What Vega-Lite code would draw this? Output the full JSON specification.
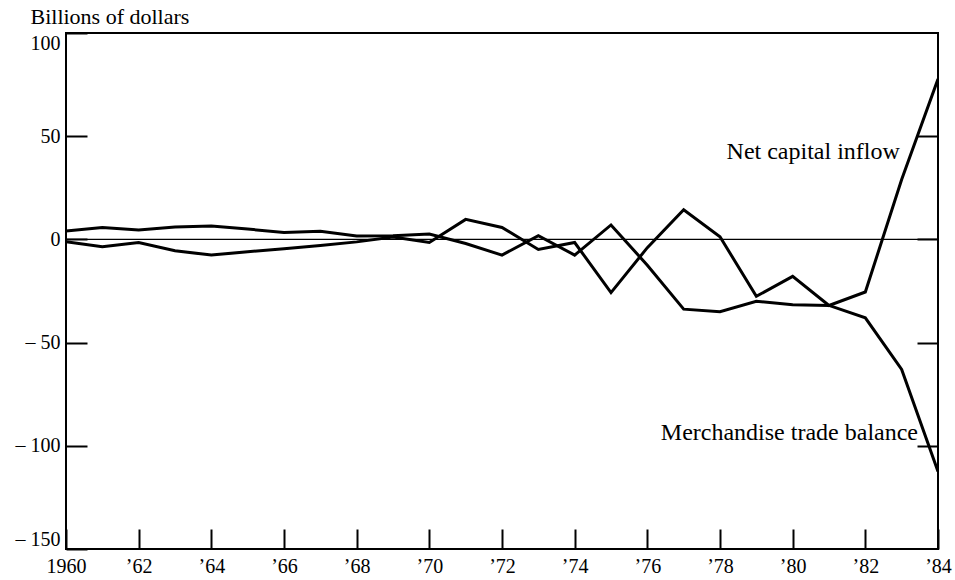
{
  "$schema": "https://vega.github.io/schema/vega-lite/v6.json",
  "width": 872,
  "height": 516,
  "autosize": "none",
  "padding": {"left": 66, "top": 33, "right": 17, "bottom": 31},
  "background": "white",
  "config": {
    "font": "Liberation Serif",
    "view": {"stroke": "black", "strokeWidth": 2},
    "axis": {
      "grid": false,
      "domain": false,
      "tickColor": "black",
      "tickWidth": 2,
      "labelColor": "black",
      "labelFont": "Liberation Serif",
      "labelFontSize": 20,
      "titleFont": "Liberation Serif",
      "titleColor": "black"
    }
  },
  "datasets": {
    "series": [
      {"year": 1960, "series": "Merchandise trade balance", "value": 4.1},
      {"year": 1961, "series": "Merchandise trade balance", "value": 5.8},
      {"year": 1962, "series": "Merchandise trade balance", "value": 4.5},
      {"year": 1963, "series": "Merchandise trade balance", "value": 6.0},
      {"year": 1964, "series": "Merchandise trade balance", "value": 6.5},
      {"year": 1965, "series": "Merchandise trade balance", "value": 5.0},
      {"year": 1966, "series": "Merchandise trade balance", "value": 3.4},
      {"year": 1967, "series": "Merchandise trade balance", "value": 4.0},
      {"year": 1968, "series": "Merchandise trade balance", "value": 1.6},
      {"year": 1969, "series": "Merchandise trade balance", "value": 1.8},
      {"year": 1970, "series": "Merchandise trade balance", "value": 2.6},
      {"year": 1971, "series": "Merchandise trade balance", "value": -2.0},
      {"year": 1972, "series": "Merchandise trade balance", "value": -7.6},
      {"year": 1973, "series": "Merchandise trade balance", "value": 1.8},
      {"year": 1974, "series": "Merchandise trade balance", "value": -7.6},
      {"year": 1975, "series": "Merchandise trade balance", "value": 7.0},
      {"year": 1976, "series": "Merchandise trade balance", "value": -12.5},
      {"year": 1977, "series": "Merchandise trade balance", "value": -33.8},
      {"year": 1978, "series": "Merchandise trade balance", "value": -35.0},
      {"year": 1979, "series": "Merchandise trade balance", "value": -30.0},
      {"year": 1980, "series": "Merchandise trade balance", "value": -31.7},
      {"year": 1981, "series": "Merchandise trade balance", "value": -32.0},
      {"year": 1982, "series": "Merchandise trade balance", "value": -38.0},
      {"year": 1983, "series": "Merchandise trade balance", "value": -63.0},
      {"year": 1984, "series": "Merchandise trade balance", "value": -112.5},
      {"year": 1960, "series": "Net capital inflow", "value": -1.1},
      {"year": 1961, "series": "Net capital inflow", "value": -3.5},
      {"year": 1962, "series": "Net capital inflow", "value": -1.5},
      {"year": 1963, "series": "Net capital inflow", "value": -5.5},
      {"year": 1964, "series": "Net capital inflow", "value": -7.6},
      {"year": 1965, "series": "Net capital inflow", "value": -6.0},
      {"year": 1966, "series": "Net capital inflow", "value": -4.5},
      {"year": 1967, "series": "Net capital inflow", "value": -3.0},
      {"year": 1968, "series": "Net capital inflow", "value": -1.2},
      {"year": 1969, "series": "Net capital inflow", "value": 1.2},
      {"year": 1970, "series": "Net capital inflow", "value": -1.5},
      {"year": 1971, "series": "Net capital inflow", "value": 9.7},
      {"year": 1972, "series": "Net capital inflow", "value": 5.8},
      {"year": 1973, "series": "Net capital inflow", "value": -4.9},
      {"year": 1974, "series": "Net capital inflow", "value": -1.5},
      {"year": 1975, "series": "Net capital inflow", "value": -25.8},
      {"year": 1976, "series": "Net capital inflow", "value": -4.0},
      {"year": 1977, "series": "Net capital inflow", "value": 14.4},
      {"year": 1978, "series": "Net capital inflow", "value": 1.3},
      {"year": 1979, "series": "Net capital inflow", "value": -27.6},
      {"year": 1980, "series": "Net capital inflow", "value": -17.9},
      {"year": 1981, "series": "Net capital inflow", "value": -32.0},
      {"year": 1982, "series": "Net capital inflow", "value": -25.5},
      {"year": 1983, "series": "Net capital inflow", "value": 29.0},
      {"year": 1984, "series": "Net capital inflow", "value": 77.7}
    ],
    "labels": [
      {"year": 1982.95, "value": 39, "label": "Net capital inflow"},
      {"year": 1983.45, "value": -97, "label": "Merchandise trade balance"}
    ]
  },
  "layer": [
    {
      "data": {"values": [{"zero": 0}]},
      "mark": {"type": "rule", "color": "black", "strokeWidth": 1.3},
      "encoding": {
        "y": {"field": "zero", "type": "quantitative", "scale": {"domain": [-150, 100]}, "axis": null}
      }
    },
    {
      "data": {"name": "series"},
      "mark": {"type": "line", "color": "black", "strokeWidth": 3, "strokeJoin": "miter", "clip": true},
      "encoding": {
        "x": {
          "field": "year",
          "type": "quantitative",
          "scale": {"domain": [1960, 1984], "nice": false, "zero": false},
          "axis": {
            "title": null,
            "values": [1960, 1962, 1964, 1966, 1968, 1970, 1972, 1974, 1976, 1978, 1980, 1982, 1984],
            "tickSize": -20,
            "labelPadding": 27,
            "labelFlush": false,
            "labelOverlap": false,
            "labelExpr": "datum.value == 1960 ? '1960' : '’' + substring(toString(datum.value), 2, 4)"
          }
        },
        "y": {
          "field": "value",
          "type": "quantitative",
          "scale": {"domain": [-150, 100], "nice": false},
          "axis": {
            "orient": "left",
            "values": [100, 50, 0, -50, -100, -150],
            "tickSize": -21,
            "labelPadding": 27,
            "labelFlush": true,
            "labelOverlap": false,
            "labelExpr": "datum.value < 0 ? '– ' + toString(-datum.value) : toString(datum.value)",
            "title": "Billions of dollars",
            "titleAngle": 0,
            "titleAlign": "left",
            "titleBaseline": "alphabetic",
            "titleX": -36,
            "titleY": -10,
            "titleFontSize": 22,
            "titleFontWeight": "normal"
          }
        },
        "detail": {"field": "series", "type": "nominal"}
      }
    },
    {
      "data": {"name": "series"},
      "mark": {"type": "point", "opacity": 0},
      "encoding": {
        "x": {"field": "year", "type": "quantitative"},
        "y": {
          "field": "value",
          "type": "quantitative",
          "scale": {"domain": [-150, 100], "nice": false},
          "axis": {
            "orient": "right",
            "values": [50, 0, -50, -100],
            "tickSize": -21,
            "labels": false,
            "title": null
          }
        }
      }
    },
    {
      "data": {"name": "labels"},
      "mark": {"type": "text", "align": "right", "baseline": "alphabetic", "fontSize": 24, "font": "Liberation Serif", "color": "black"},
      "encoding": {
        "x": {"field": "year", "type": "quantitative"},
        "y": {"field": "value", "type": "quantitative", "axis": null},
        "text": {"field": "label"}
      }
    }
  ],
  "resolve": {"axis": {"y": "independent"}}
}
